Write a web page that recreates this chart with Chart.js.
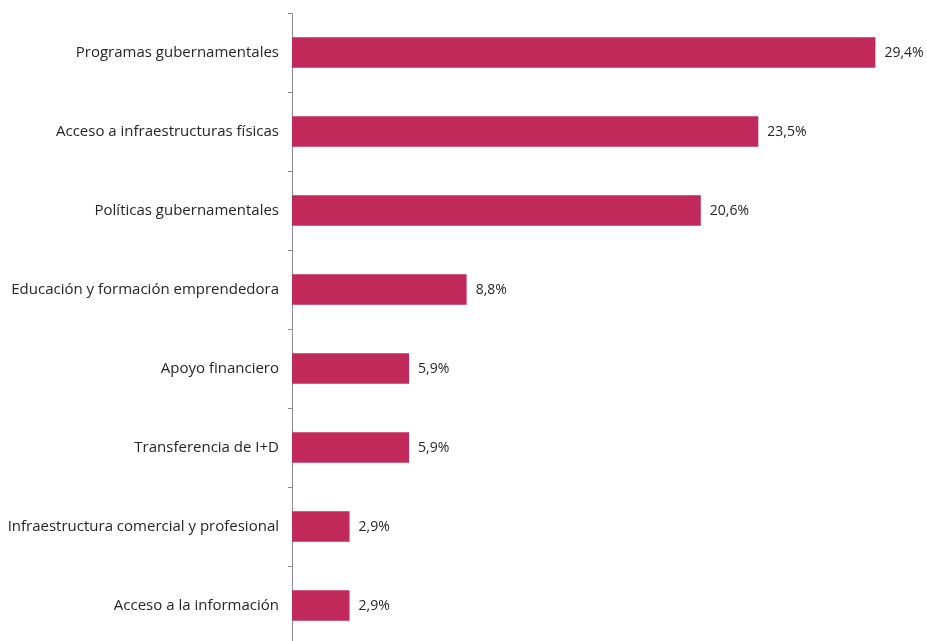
<!DOCTYPE html>
<html><head><meta charset="utf-8">
<script src="https://cdn.jsdelivr.net/npm/chart.js@4"></script>
<style>
html,body{margin:0;padding:0;background:#fff;overflow:hidden}
#wrap{width:927px;height:641px;overflow:hidden;position:relative}
#c{display:block}
</style></head><body>
<div id="wrap"><canvas id="c" width="927" height="655"></canvas></div>
<script>
const categories = ["Programas gubernamentales","Acceso a infraestructuras físicas","Políticas gubernamentales","Educación y formación emprendedora","Apoyo financiero","Transferencia de I+D","Infraestructura comercial y profesional","Acceso a la información"];
const values = [29.4, 23.5, 20.6, 8.8, 5.9, 5.9, 2.9, 2.9];
const valueLabels = ["29,4%","23,5%","20,6%","8,8%","5,9%","5,9%","2,9%","2,9%"];

const FONT = "'Open Sans', sans-serif";
const labelPlugin = {
  id: 'valLabels',
  afterDatasetsDraw(chart) {
    const ctx = chart.ctx;
    const meta = chart.getDatasetMeta(0);
    ctx.save();
    ctx.font = "14px " + FONT;
    ctx.fillStyle = "#262626";
    ctx.textAlign = "left";
    ctx.textBaseline = "middle";
    meta.data.forEach((bar, i) => {
      ctx.fillText(valueLabels[i], bar.x + 9, bar.y + 1);
    });
    ctx.restore();
  }
};

new Chart(document.getElementById('c'), {
  type: 'bar',
  data: {
    labels: categories,
    datasets: [{
      data: values,
      backgroundColor: '#C0295A',
      borderWidth: 0,
      categoryPercentage: 1,
      barPercentage: 0.385
    }]
  },
  options: {
    indexAxis: 'y',
    responsive: false,
    animation: false,
    devicePixelRatio: 1,
    layout: { padding: { top: 13, bottom: 10, left: 0, right: 0 } },
    plugins: { legend: { display: false }, tooltip: { enabled: false } },
    scales: {
      x: { display: false, min: 0, max: 32 },
      y: {
        afterFit(scale) { scale.width = 292; scale.paddingTop = 0; scale.paddingBottom = 0; },
        border: { display: true, color: '#8c8c8c', width: 1 },
        grid: { drawOnChartArea: false, drawTicks: true, tickLength: 4, color: '#8c8c8c', offset: true },
        ticks: { padding: 9, color: '#262626', font: { family: FONT, size: 15 } }
      }
    }
  },
  plugins: [labelPlugin]
});
</script>
</body></html>
